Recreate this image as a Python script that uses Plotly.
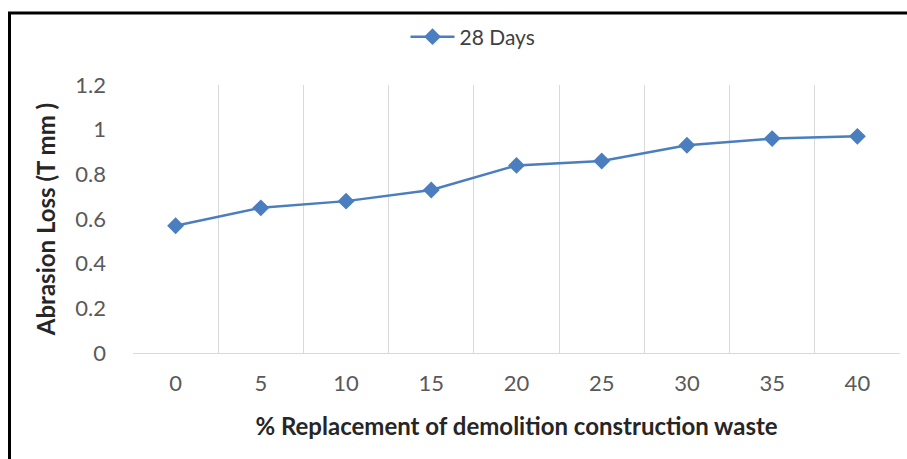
import plotly.graph_objects as go

categories = ["0", "5", "10", "15", "20", "25", "30", "35", "40"]
abrasion_28 = [0.57, 0.65, 0.68, 0.73, 0.84, 0.86, 0.93, 0.96, 0.97]
y_ticks = [0, 0.2, 0.4, 0.6, 0.8, 1.0, 1.2]
y_tick_text = ["0", "0.2", "0.4", "0.6", "0.8", "1", "1.2"]

W, H = 907, 459
L, R, T, B = 133, 7, 85, 106
pw, ph = W - L - R, H - T - B

def px_to_paper_x(px):
    return (px - L) / pw

def px_to_paper_y(py):
    return (H - B - py) / ph

FONT = "Lato, 'Open Sans', sans-serif"
BLUE = "#4A7EBF"

fig = go.Figure()
fig.add_trace(go.Scatter(
    x=categories, y=abrasion_28, mode="lines+markers", name="28 Days",
    line=dict(color=BLUE, width=2.5),
    marker=dict(symbol="diamond", size=13, color=BLUE),
))

fig.update_layout(
    width=W, height=H,
    margin=dict(l=L, r=R, t=T, b=B, autoexpand=False),
    paper_bgcolor="white", plot_bgcolor="white",
    font=dict(family=FONT, color="#595959", size=22),
    showlegend=True,
    legend=dict(orientation="h", xref="container", yref="container",
                x=473 / W, xanchor="center",
                y=1 - 37 / H, yanchor="middle",
                font=dict(size=21, color="#404040"),
                itemwidth=44),
    xaxis=dict(
        type="category", tickson="boundaries", showgrid=True,
        range=[-0.5, len(categories) - 0.5],
        gridcolor="#D9D9D9", gridwidth=1, ticks="",
        showline=True, linecolor="#D9D9D9", linewidth=1,
        ticklabelstandoff=11, automargin=False,
        title=dict(text="<b>% Replacement of demolition construction waste</b>",
                   font=dict(size=24, color="#262626"), standoff=22),
        zeroline=False,
    ),
    yaxis=dict(
        range=[0, 1.2], tickvals=y_ticks, ticktext=y_tick_text,
        showgrid=False, zeroline=False, showline=False, ticks="",
        ticklabelstandoff=26, automargin=False,
        title=dict(text="<b>Abrasion Loss (T mm )</b>",
                   font=dict(size=24, color="#262626"), standoff=12),
    ),
    shapes=[
        dict(type="line", xref="paper", yref="paper",
             x0=px_to_paper_x(9.5), x1=px_to_paper_x(9.5),
             y0=px_to_paper_y(12), y1=px_to_paper_y(470),
             line=dict(color="black", width=3)),
        dict(type="line", xref="paper", yref="paper",
             x0=px_to_paper_x(8), x1=px_to_paper_x(920),
             y0=px_to_paper_y(13), y1=px_to_paper_y(13),
             line=dict(color="black", width=3)),
    ],
)

fig.write_html("out.html", config={"displayModeBar": False},
               post_script="document.body.style.margin='0';")
